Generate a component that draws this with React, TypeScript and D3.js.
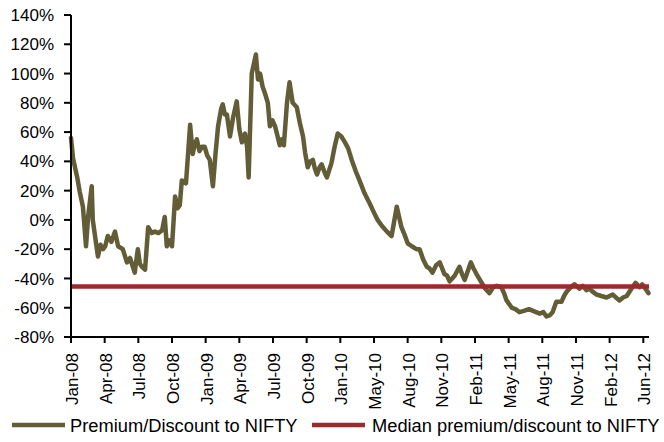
import * as d3 from "d3";

// trading-day index (65 days between labelled ticks) and premium in %
const tradingDay = [
  0, 4, 12, 17, 23, 29, 33, 40, 42, 52, 57, 62, 66, 71, 78, 85, 91, 100, 108, 114,
  123, 129, 133, 137, 143, 149, 156, 162, 169, 176, 181, 185, 190, 195, 201, 206, 210, 214, 222, 230,
  235, 239, 243, 248, 253, 258, 263, 268, 274, 279, 284, 290, 293, 297, 301, 307, 313, 320, 325, 330,
  336, 340, 343, 349, 357, 361, 365, 370, 375, 380, 384, 389, 394, 399, 403, 407, 411, 417, 422, 428,
  436, 442, 448, 452, 457, 462, 467, 471, 475, 480, 484, 489, 494, 503, 509, 515, 522, 529, 535, 542,
  550, 557, 567, 577, 585, 592, 600, 610, 619, 629, 638, 644, 650, 658, 667, 673, 680, 687, 692, 698,
  705, 712, 721, 726, 731, 736, 741, 750, 755, 760, 766, 772, 777, 783, 793, 800, 808, 815, 822, 831,
  836, 841, 851, 858, 866, 876, 884, 891, 898, 905, 912, 918, 925, 930, 937, 947, 952, 957, 965, 972,
  982, 988, 995, 1001, 1007, 1015, 1024, 1034, 1040, 1046, 1052, 1059, 1066, 1073, 1082, 1090, 1098, 1103, 1107, 1111,
  1115,
];

const premium = [
  56, 42, 29, 19, 9, -18, 2, 23, 0, -25, -17, -20, -18, -11, -15, -8, -18, -20, -29, -26,
  -36, -20, -30, -32, -34, -5, -9, -8, -9, -7, 2, -18, -14, -18, 16, 8, 10, 27, 25, 65,
  45, 52, 55, 47, 50, 50, 44, 41, 23, 45, 64, 76, 79, 72, 72, 57, 70, 81, 62, 53,
  59, 50, 29, 100, 113, 96, 100, 91, 86, 80, 64, 68, 64, 57, 51, 55, 51, 80, 94, 80,
  77, 66, 57, 46, 36, 40, 41, 35, 31, 36, 38, 33, 29, 39, 50, 59, 57, 53, 49, 41,
  33, 27, 18, 11, 5, 0, -4, -8, -11, 9, -5, -10, -16, -18, -20, -20, -27, -32, -33, -36,
  -31, -29, -37, -38, -42, -40, -38, -32, -37, -41, -35, -29, -33, -37, -43, -47, -50, -46, -45, -46,
  -50, -55, -60, -61, -63, -62, -61, -62, -63, -64, -63, -66, -65, -63, -56, -56, -52, -49, -46, -44,
  -47, -45, -48, -47, -49, -51, -52, -53, -52, -51, -53, -55, -53, -52, -47, -43, -46, -44, -46, -48,
  -50,
];

const medianPremium = -45.5;

const yTicks = [140, 120, 100, 80, 60, 40, 20, 0, -20, -40, -60, -80];
const tickLabels = [
  "Jan-08", "Apr-08", "Jul-08", "Oct-08", "Jan-09", "Apr-09", "Jul-09", "Oct-09", "Jan-10",
  "May-10", "Aug-10", "Nov-10", "Feb-11", "May-11", "Aug-11", "Nov-11", "Feb-12", "Jun-12",
];
const daysPerTick = 65;
const lastDay = 1116;

const seriesNames = ["Premium/Discount to NIFTY", "Median premium/discount to NIFTY"];
const seriesColors = ["#625d37", "#9b2a2c"];

export default function App() {
  const width = 664;
  const height = 442;
  const margin = { top: 15, right: 15, bottom: 105, left: 71 };
  const font = "'Liberation Sans', Arial, sans-serif";

  const x = d3.scaleLinear()
    .domain([0, lastDay])
    .range([margin.left, width - margin.right]);

  const y = d3.scaleLinear()
    .domain([-80, 140])
    .range([height - margin.bottom, margin.top]);

  const points = tradingDay.map((d, i) => [d, premium[i]] as [number, number]);
  const line = d3.line<[number, number]>()
    .x(d => x(d[0]))
    .y(d => y(d[1]));

  const y0 = y(-80);

  return (
    <svg
      width={width}
      height={height}
      style={{ position: "absolute", left: 0, top: 0, background: "#fff" }}
      fontFamily={font}
    >
      {/* series */}
      <path d={line(points) ?? ""} fill="none" stroke={seriesColors[0]}
        strokeWidth={4.5} strokeLinejoin="round" strokeLinecap="round" />
      <line x1={x(0)} x2={x(lastDay)} y1={y(medianPremium)} y2={y(medianPremium)}
        stroke={seriesColors[1]} strokeWidth={4.5} />

      {/* y axis */}
      <line x1={x(0)} x2={x(0)} y1={y(140)} y2={y0} stroke="#000" strokeWidth={2} />
      {yTicks.map(t => (
        <g key={t}>
          <line x1={x(0) - 7} x2={x(0)} y1={y(t)} y2={y(t)} stroke="#000" strokeWidth={2} />
          <text x={x(0) - 17} y={y(t)} dy="0.36em" textAnchor="end" fontSize={17} fill="#000">
            {t}%
          </text>
        </g>
      ))}

      {/* x axis */}
      <line x1={x(0)} x2={x(lastDay)} y1={y0} y2={y0} stroke="#000" strokeWidth={2} />
      {tickLabels.map((lab, i) => {
        const xp = x(i * daysPerTick);
        return (
          <g key={lab}>
            <line x1={xp} x2={xp} y1={y0} y2={y0 + 6} stroke="#000" strokeWidth={2} />
            <text
              transform={`translate(${xp + 1},${y0 + 16}) rotate(-90)`}
              dy="0.36em"
              textAnchor="end"
              fontSize={17}
              fill="#000"
            >
              {lab}
            </text>
          </g>
        );
      })}

      {/* legend */}
      <line x1={12} x2={65} y1={425} y2={425} stroke={seriesColors[0]} strokeWidth={4.5} />
      <text x={70} y={431.5} fontSize={18.3} fill="#000">{seriesNames[0]}</text>
      <line x1={312} x2={365} y1={425} y2={425} stroke={seriesColors[1]} strokeWidth={4.5} />
      <text x={372} y={431.5} fontSize={18.3} fill="#000">{seriesNames[1]}</text>
    </svg>
  );
}
